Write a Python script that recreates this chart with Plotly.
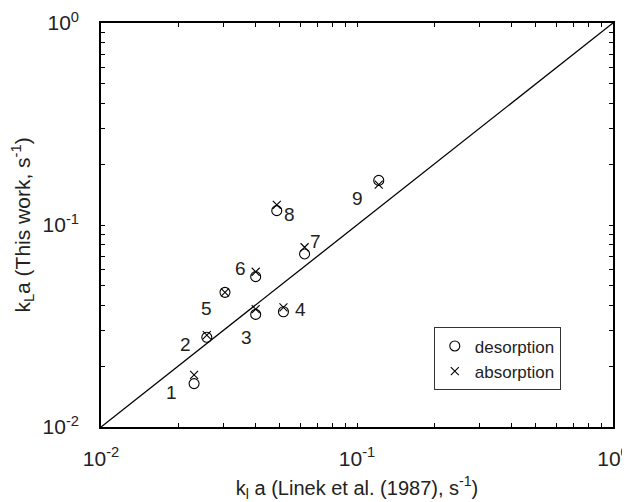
import math
import plotly.graph_objects as go

# Data
run_labels = ["1", "2", "3", "4", "5", "6", "7", "8", "9"]
kla_linek = [0.0231, 0.0259, 0.0402, 0.0516, 0.0305, 0.0402, 0.0624, 0.0486, 0.1216]
kla_desorption = [0.0164, 0.0278, 0.0361, 0.0372, 0.0464, 0.0555, 0.0719, 0.1178, 0.1663]
kla_absorption = [0.0181, 0.0285, 0.0383, 0.0391, 0.0464, 0.0587, 0.0776, 0.1257, 0.1583]
label_x = [0.0189, 0.0213, 0.0371, 0.0600, 0.0259, 0.0350, 0.0686, 0.0545, 0.1002]
label_y = [0.0149, 0.0256, 0.0278, 0.0381, 0.0388, 0.0612, 0.0829, 0.1125, 0.1350]
parity_line = [0.01, 1.0]

major_ticks = [0.01, 0.1, 1.0]
major_text = ["10<sup>-2</sup>", "10<sup>-1</sup>", "10<sup>0</sup>"]

tickvals = []
ticktext = []
for d in (0.01, 0.1):
    for m in range(1, 10):
        v = round(d * m, 6)
        tickvals.append(v)
        ticktext.append(major_text[major_ticks.index(d)] if m == 1 else "")
tickvals.append(1.0)
ticktext.append(major_text[2])

FONT = "Liberation Sans, Arial, sans-serif"
TXT = "#222"

fig = go.Figure()
fig.add_trace(go.Scatter(
    x=parity_line, y=parity_line, mode="lines",
    line=dict(color="black", width=1.3), showlegend=False, hoverinfo="skip"))
fig.add_trace(go.Scatter(
    x=kla_linek, y=kla_desorption, mode="markers", name="desorption",
    marker=dict(symbol="circle-open", size=10, color="black", line=dict(width=1.1, color="black"))))
fig.add_trace(go.Scatter(
    x=kla_linek, y=kla_absorption, mode="markers", name="absorption",
    marker=dict(symbol="x-thin-open", size=8, color="black", line=dict(width=1.1, color="black"))))

for t, lx, ly in zip(run_labels, label_x, label_y):
    fig.add_annotation(x=math.log10(lx), y=math.log10(ly), xref="x", yref="y",
                       text=t, showarrow=False,
                       font=dict(family=FONT, size=19, color=TXT))

axis_common = dict(
    type="log", range=[-2, 0], tickvals=tickvals, ticktext=ticktext,
    ticks="inside", ticklen=4, tickwidth=1, tickcolor="black",
    showline=True, linewidth=1.6, linecolor="black", mirror="ticks",
    showgrid=False, zeroline=False, automargin=False,
    tickfont=dict(family=FONT, size=21, color=TXT),
)

fig.update_xaxes(**axis_common, ticklabelstandoff=12,
                 title=dict(text="k<sub>l</sub> a (Linek et al. (1987), s<sup>-1</sup>)",
                            font=dict(family=FONT, size=20, color=TXT), standoff=15))
fig.update_yaxes(**axis_common, ticklabelstandoff=16,
                 title=dict(text="k<sub>L</sub>a (This work, s<sup>-1</sup>)",
                            font=dict(family=FONT, size=21, color=TXT), standoff=10))

# The page body has an 8px default margin; the figure is sized to fill the rest of the window.
fig.update_layout(
    width=622, height=494,
    margin=dict(l=93, r=17, t=15, b=75),
    paper_bgcolor="white", plot_bgcolor="white",
    font=dict(family=FONT, color=TXT),
    legend=dict(x=0.65, y=0.2465, xanchor="left", yanchor="top",
                bgcolor="white", bordercolor="#333", borderwidth=1,
                font=dict(family=FONT, size=17, color=TXT),
                itemwidth=30, tracegroupgap=0),
)

fig.write_html("out.html")
